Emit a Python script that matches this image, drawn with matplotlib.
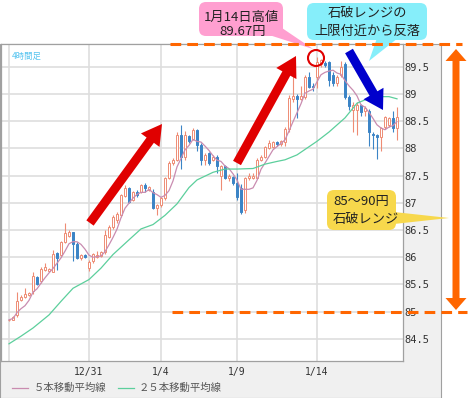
import matplotlib
matplotlib.use('Agg')
import matplotlib.pyplot as plt
import pandas as pd
from matplotlib.patches import FancyBboxPatch, Polygon, FancyArrow, Circle, Rectangle
from matplotlib.ticker import FuncFormatter

plt.rcParams['font.family'] = ['Noto Sans CJK JP', 'DejaVu Sans']

# 4 hour candles (USD/JPY), bar 0 is the left-most one
opens = [84.84, 84.85, 84.93, 85.21, 85.27, 85.31, 85.38, 85.64, 85.57, 85.76,
         85.74, 85.73, 86.07, 86.04, 86.28, 86.39, 86.46, 86.25, 85.98, 86.04,
         85.80, 85.93, 86.01, 86.03, 86.09, 86.37, 86.55, 86.68, 86.77, 87.12,
         87.27, 87.05, 87.20, 87.20, 87.33, 87.23, 87.20, 86.90, 86.96, 87.08,
         87.45, 87.73, 87.79, 88.25, 87.85, 88.22, 88.17, 88.34, 88.07, 87.79,
         87.91, 87.79, 87.85, 87.49, 87.67, 87.46, 87.47, 87.37, 87.27, 86.86,
         87.45, 87.45, 87.46, 87.79, 87.85, 88.00, 88.02, 88.11, 88.08, 88.12,
         88.35, 88.90, 88.96, 88.90, 88.95, 89.31, 89.15, 89.32, 89.55, 89.56,
         89.58, 89.35, 89.20, 89.35, 89.55, 88.95, 88.70, 88.70, 88.80, 88.68,
         88.68, 88.27, 88.24, 88.20, 88.40, 88.43, 88.55, 88.37]
highs = [84.86, 84.92, 85.36, 85.30, 85.44, 85.37, 85.72, 85.66, 85.82, 85.89,
         85.81, 86.13, 86.10, 86.30, 86.63, 86.50, 86.47, 86.28, 86.06, 86.06,
         85.95, 86.08, 86.12, 86.11, 86.50, 86.60, 86.77, 86.83, 87.17, 87.33,
         87.29, 87.22, 87.23, 87.35, 87.36, 87.31, 87.25, 86.98, 87.10, 87.47,
         87.76, 87.82, 88.30, 88.42, 88.32, 88.25, 88.38, 88.36, 88.10, 87.92,
         87.93, 87.88, 87.87, 87.70, 87.69, 87.52, 87.50, 87.55, 87.35, 87.48,
         87.55, 87.55, 87.82, 87.88, 88.05, 88.15, 88.14, 88.13, 88.16, 88.40,
         88.98, 89.50, 89.00, 89.15, 89.35, 89.40, 89.20, 89.67, 89.65, 89.60,
         89.60, 89.40, 89.35, 89.60, 89.58, 88.98, 88.85, 88.85, 88.82, 88.78,
         88.72, 88.30, 88.27, 88.40, 88.60, 88.58, 88.68, 88.76]
lows = [84.83, 84.84, 84.90, 85.19, 85.25, 85.29, 85.33, 85.49, 85.53, 85.74,
        85.72, 85.72, 85.76, 86.00, 86.26, 86.37, 85.94, 85.96, 85.95, 85.98,
        85.75, 85.90, 85.98, 86.00, 86.06, 86.35, 86.52, 86.62, 86.73, 87.10,
        87.00, 87.03, 87.11, 87.18, 87.20, 87.21, 86.88, 86.78, 86.93, 87.05,
        87.43, 87.70, 87.76, 87.62, 87.78, 88.10, 88.15, 87.95, 87.70, 87.70,
        87.70, 87.77, 87.55, 87.24, 87.44, 87.40, 87.33, 87.05, 86.80, 86.82,
        87.42, 87.43, 87.44, 87.76, 87.83, 87.98, 88.00, 88.05, 88.05, 88.05,
        88.30, 88.85, 88.55, 88.88, 88.90, 89.10, 89.05, 89.10, 89.50, 89.50,
        89.15, 89.15, 89.15, 89.32, 88.90, 88.70, 88.30, 88.25, 88.60, 88.60,
        88.05, 87.98, 87.80, 87.95, 88.35, 88.40, 88.30, 88.15]
closes = [84.85, 84.90, 85.20, 85.27, 85.33, 85.34, 85.65, 85.51, 85.79, 85.82,
          85.79, 86.06, 85.99, 86.28, 86.44, 86.47, 86.25, 85.98, 86.04, 86.00,
          85.92, 86.06, 86.04, 86.09, 86.40, 86.55, 86.74, 86.80, 87.14, 87.27,
          87.02, 87.20, 87.14, 87.33, 87.27, 87.29, 86.90, 86.96, 87.08, 87.45,
          87.73, 87.79, 88.25, 87.85, 88.25, 88.13, 88.34, 88.07, 87.79, 87.88,
          87.73, 87.85, 87.67, 87.67, 87.46, 87.49, 87.37, 87.10, 86.83, 87.45,
          87.49, 87.50, 87.79, 87.85, 88.02, 88.10, 88.11, 88.08, 88.14, 88.35,
          88.92, 88.96, 88.90, 88.97, 89.31, 89.13, 89.12, 89.58, 89.62, 89.53,
          89.25, 89.20, 89.32, 89.50, 88.95, 88.77, 88.80, 88.80, 88.67, 88.74,
          88.30, 88.24, 88.21, 88.38, 88.58, 88.55, 88.37, 88.58]

# 25 bar moving average (bar index, price)
ma25_bar = [0, 3, 6, 10, 13, 16, 20, 23, 26, 30, 33, 36, 39, 42, 45, 47,
            51, 54, 57, 61, 64, 67, 69, 72, 74, 77, 80, 84, 87, 90, 92, 95, 97]
ma25_val = [84.41, 84.55, 84.70, 84.94, 85.19, 85.43, 85.59, 85.80, 86.05, 86.32,
            86.52, 86.60, 86.77, 86.98, 87.28, 87.42, 87.56, 87.62, 87.62, 87.63,
            87.71, 87.76, 87.79, 87.88, 87.98, 88.13, 88.30, 88.56, 88.83, 88.92,
            88.95, 88.95, 88.91]

date_bars = [20, 38, 57, 77]
date_labels = ['12/31', '1/4', '1/9', '1/14']
yticks = [84.5, 85, 85.5, 86, 86.5, 87, 87.5, 88, 88.5, 89, 89.5]

df = pd.DataFrame({'open': opens, 'high': highs, 'low': lows, 'close': closes})
df['ma5'] = df['close'].rolling(5, min_periods=1).mean()

W, H = 471, 398
UP = '#ee8c74'
DOWN = '#3b84c6'
ORANGE = '#ff6600'


def fx(x):
    return x / W


def fy(y):
    return 1 - y / H


fig = plt.figure(figsize=(W / 100, H / 100), dpi=100)

# gray panel behind the chart (axis label area)
fig.patches.append(Rectangle((0, fy(398)), fx(441), fy(44) - fy(398), transform=fig.transFigure,
                             facecolor='#f0f0f0', edgecolor='#a0a0a0', lw=0.8, zorder=-5))

ax = fig.add_axes([fx(1), fy(361), fx(403) - fx(1), fy(44) - fy(361)])
ax.set_facecolor('white')

# candles
for i, row in df.iterrows():
    up = row['close'] >= row['open']
    col = UP if up else DOWN
    ax.vlines(i, row['low'], row['high'], color=col, lw=0.8, zorder=3)
    bottom = min(row['open'], row['close'])
    height = max(abs(row['close'] - row['open']), 0.012)
    ax.bar(i, height, bottom=bottom, width=0.72, facecolor='white' if up else DOWN,
           edgecolor=col, lw=0.7, zorder=4)

ax.plot(df.index, df['ma5'], color='#c98cb0', lw=0.9, zorder=5)
ax.plot(ma25_bar, ma25_val, color='#5ccf9c', lw=0.9, zorder=5)

ax.set_xlim(-2, 98.5)
ax.set_ylim(84.094, 89.917)
ax.set_xticks(date_bars)
ax.set_xticklabels(date_labels)
for b in [0] + date_bars:
    ax.axvline(b, color='#dedede', lw=1.2, zorder=0)
ax.set_yticks(yticks)
ax.yaxis.set_major_formatter(FuncFormatter(lambda v, p: '%g' % v))
ax.yaxis.tick_right()
ax.grid(axis='y', color='#dedede', lw=1.2, zorder=0)
ax.tick_params(axis='y', length=0, pad=1, labelsize=7.5, labelcolor='#333333')
ax.tick_params(axis='x', length=0, pad=4, labelsize=7, labelcolor='#333333')
for lab in ax.get_yticklabels() + ax.get_xticklabels():
    lab.set_family('DejaVu Sans Mono')
for s in ax.spines.values():
    s.set_color('#a0a0a0')
    s.set_linewidth(0.9)

ax.text(fx(11) / (fx(403) - fx(1)), 0.975, '4時間足', transform=ax.transAxes,
        fontsize=6, color='#55c4f0', va='top', ha='left')

# overlay in pixel coordinates for the annotations
ov = fig.add_axes([0, 0, 1, 1], zorder=10)
ov.set_xlim(0, W)
ov.set_ylim(H, 0)
ov.axis('off')
ov.patch.set_alpha(0)

# range lines and double arrow
ov.plot([170, 462], [44, 44], color=ORANGE, lw=2.2, ls=(0, (3.5, 2)))
ov.plot([172, 467], [312, 312], color=ORANGE, lw=2.2, ls=(0, (3.5, 2)))
ov.add_patch(FancyArrow(456, 180, 0, -131, width=7, head_width=21, head_length=12,
                        length_includes_head=True, color=ORANGE, lw=0))
ov.add_patch(FancyArrow(456, 180, 0, 130, width=7, head_width=21, head_length=12,
                        length_includes_head=True, color=ORANGE, lw=0))

# trend arrows
ov.add_patch(FancyArrow(90, 223, 72, -99, width=9, head_width=23, head_length=20,
                        length_includes_head=True, color='#e00000', lw=0))
ov.add_patch(FancyArrow(237, 163, 59, -107, width=9, head_width=23, head_length=20,
                        length_includes_head=True, color='#e00000', lw=0))
ov.add_patch(FancyArrow(349, 51, 34, 59, width=9, head_width=23, head_length=19,
                        length_includes_head=True, color='#0000cc', lw=0))

ov.add_patch(Circle((316, 58), 8, facecolor='none', edgecolor='#e00000', lw=1.5))

# callouts
PINK = '#ff9fd0'
CYAN = '#86eefa'
YEL = '#f7d84c'
ov.add_patch(Polygon([(266, 34), (282, 28), (313, 49)], closed=True, facecolor=PINK, lw=0))
ov.add_patch(FancyBboxPatch((199, 2), 84, 34, boxstyle='round,pad=0,rounding_size=7',
                            facecolor=PINK, edgecolor='none'))
ov.text(241, 17, '1月14日高値', ha='center', va='center', fontsize=9.5, color='#222222')
ov.text(243, 32, '89.67円', ha='center', va='center', fontsize=9.5, color='#222222')

ov.add_patch(Polygon([(377, 38), (398, 38), (369, 61)], closed=True, facecolor=CYAN, lw=0))
ov.add_patch(FancyBboxPatch((307, 3), 120, 37, boxstyle='round,pad=0,rounding_size=7',
                            facecolor=CYAN, edgecolor='none'))
ov.text(367, 14, '石破レンジの', ha='center', va='center', fontsize=9.5, color='#222222')
ov.text(367, 31, '上限付近から反落', ha='center', va='center', fontsize=9.5, color='#222222')

ov.add_patch(Polygon([(394, 212), (394, 224), (449, 218)], closed=True, facecolor=YEL, lw=0))
ov.add_patch(FancyBboxPatch((327, 190), 69, 40, boxstyle='round,pad=0,rounding_size=7',
                            facecolor=YEL, edgecolor='none'))
ov.text(333, 201, '85～90円', ha='left', va='center', fontsize=9.5, color='#222222')
ov.text(333, 219, '石破レンジ', ha='left', va='center', fontsize=9.5, color='#222222')

# legend
ov.plot([12, 28], [388, 388], color='#c98cb0', lw=0.9)
ov.text(34, 388, '５本移動平均線', ha='left', va='center', fontsize=7.5, color='#555555')
ov.plot([118, 134], [388, 388], color='#5ccf9c', lw=0.9)
ov.text(139, 388, '２５本移動平均線', ha='left', va='center', fontsize=7.5, color='#555555')

fig.savefig('out.png', dpi=100)
